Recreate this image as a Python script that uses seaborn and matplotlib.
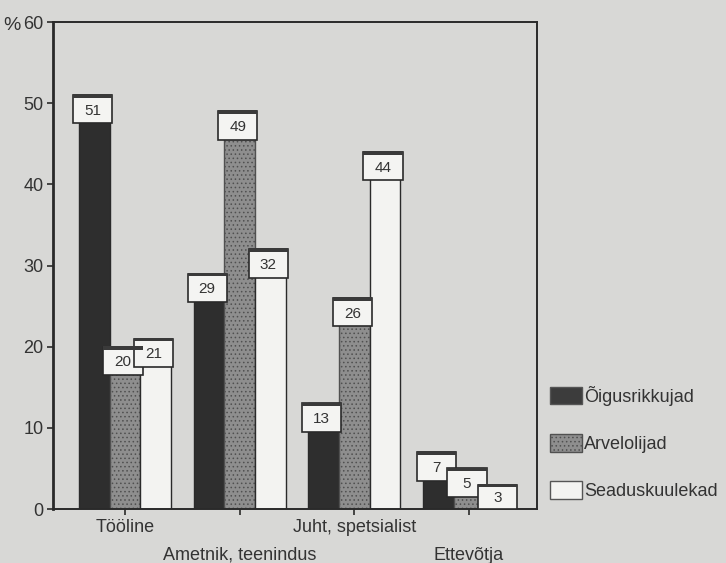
import numpy as np
import pandas as pd
import seaborn as sns
import matplotlib.pyplot as plt
from matplotlib.patches import Patch, Rectangle

# andmed
ameti_grupid = ["Tööline", "Ametnik, teenindus", "Juht, spetsialist", "Ettevõtja"]
rühmad = ["Õigusrikkujad", "Arvelolijad", "Seaduskuulekad"]
oigusrikkujad = [51, 29, 13, 7]
arvelolijad = [20, 49, 26, 5]
seaduskuulekad = [21, 32, 44, 3]
y_ticks = [0, 10, 20, 30, 40, 50, 60]

df = pd.DataFrame({
    "grupp": ameti_grupid * 3,
    "rühm": [r for r in rühmad for _ in ameti_grupid],
    "protsent": oigusrikkujad + arvelolijad + seaduskuulekad,
})

taust = "#d8d8d6"
varvid = ["#2e2e2e", "#8e8e8e", "#f3f3f1"]
joon = "#2a2a2a"

sns.set_theme(style="ticks")
plt.rcParams["font.family"] = ["Liberation Sans", "DejaVu Sans"]
plt.rcParams["hatch.linewidth"] = 0.6

fig = plt.figure(figsize=(7.26, 5.63), dpi=100, facecolor=taust)
ax = fig.add_axes([0.073, 0.0959, 0.6667, 0.865])
ax.set_facecolor(taust)

sns.barplot(data=df, x="grupp", y="protsent", hue="rühm", palette=varvid,
            width=0.8, edgecolor=joon, linewidth=1.0, saturation=1,
            legend=False, ax=ax)

# halli tulba muster
for bar in ax.containers[1]:
    bar.set_hatch("....")
    bar.set_edgecolor("#505050")

# väärtuste kastid tulpade otsas
kasti_k = 3.5
for cont, vals in zip(ax.containers, [oigusrikkujad, arvelolijad, seaduskuulekad]):
    for bar, v in zip(cont, vals):
        x0 = bar.get_x() - 0.055
        w = bar.get_width() + 0.075
        alus = max(v - kasti_k, 0)
        ax.add_patch(Rectangle((x0, alus), w, v - alus, facecolor="#f4f4f2",
                               edgecolor=joon, linewidth=1.2, zorder=4))
        ax.add_patch(Rectangle((x0, v - 0.35), w, 0.45, facecolor="#3a3a3a",
                               edgecolor="none", zorder=5))
        ax.text(x0 + w / 2, (alus + v - 0.35) / 2, str(v), ha="center", va="center",
                fontsize=11, color="#333333", zorder=6)

ax.set_ylim(0, 60)
ax.set_xlim(-0.628, 3.593)
ax.set_yticks(y_ticks)
ax.set_yticklabels([str(t) for t in y_ticks], fontsize=13, color="#333333")
ax.set_xticks(range(len(ameti_grupid)))
ax.set_xticklabels(ameti_grupid, fontsize=13, color="#333333")
ax.tick_params(axis="both", length=4, width=1.2, color=joon, pad=3)
# iga teine silt teise ritta
for i, tick in enumerate(ax.xaxis.get_major_ticks()):
    if i % 2 == 1:
        tick.set_pad(23)
ax.set_xlabel("")
ax.set_ylabel("")

for s in ax.spines.values():
    s.set_visible(True)
    s.set_color(joon)
    s.set_linewidth(1.4)
ax.spines["left"].set_linewidth(2.0)

# protsendimärk
ax.text(-0.084, 59.6, "%", transform=ax.get_yaxis_transform(), ha="center", va="center",
        fontsize=14, color="#333333")

# legend
kasitsejad = [
    Patch(facecolor="#3c3c3c", edgecolor="#555555", label=rühmad[0]),
    Patch(facecolor=varvid[1], edgecolor="#505050", hatch="....", label=rühmad[1]),
    Patch(facecolor=varvid[2], edgecolor="#555555", label=rühmad[2]),
]
fig.legend(handles=kasitsejad, loc="upper left", bbox_to_anchor=(0.757, 0.315),
           frameon=False, fontsize=13, handlelength=1.8, handleheight=1.15,
           handletextpad=0.1, labelspacing=1.55, borderpad=0, borderaxespad=0,
           labelcolor="#333333")

plt.savefig("out.png", dpi=100, facecolor=taust)
